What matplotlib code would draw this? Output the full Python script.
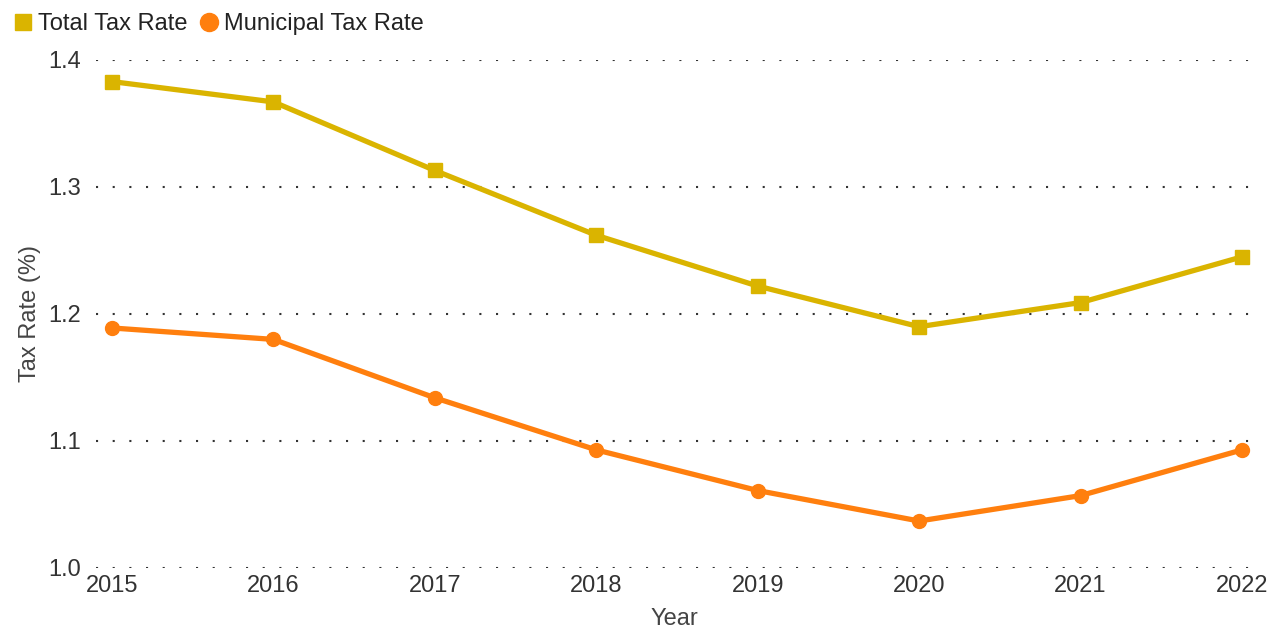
import matplotlib
matplotlib.use("Agg")
import matplotlib.pyplot as plt
from matplotlib.lines import Line2D

plt.rcParams['font.family'] = ['Liberation Sans', 'DejaVu Sans']

years = [2015, 2016, 2017, 2018, 2019, 2020, 2021, 2022]
total_tax_rate = [1.383, 1.367, 1.313, 1.262, 1.222, 1.190, 1.209, 1.245]
municipal_tax_rate = [1.189, 1.180, 1.134, 1.093, 1.061, 1.037, 1.057, 1.093]
y_ticks = [1.0, 1.1, 1.2, 1.3, 1.4]

c_total = '#DAB400'
c_muni = '#FF7F0E'
text_c = '#333333'

fig = plt.figure(figsize=(12.81, 6.31), dpi=100)
ax = fig.add_axes([96/1281, 1-568/631, (1252-96)/1281, (568-60)/631])

ax.plot(years, total_tax_rate, color=c_total, lw=3.8, marker='s', ms=10, zorder=3)
ax.plot(years, municipal_tax_rate, color=c_muni, lw=3.8, marker='o', ms=10, zorder=3)

ax.set_xlim(2015 - 16/161.4, 2022 + 10/161.4)
ax.set_ylim(1.0, 1.4)
ax.set_yticks(y_ticks)
ax.set_yticklabels([f"{v:.1f}" for v in y_ticks])
ax.set_xticks(years)
ax.set_xticklabels([str(y) for y in years])
for s in ax.spines.values():
    s.set_visible(False)
ax.tick_params(length=0, labelsize=17, colors=text_c, pad=11)
ax.tick_params(axis='x', pad=5)
ax.grid(axis='y', color='#333333', linestyle=(0, (1, 7)), lw=1.5)
ax.set_axisbelow(True)

ax.set_xlabel('Year', fontsize=17, color='#444444', labelpad=8)
ax.set_ylabel('Tax Rate (%)', fontsize=17, color='#444444', labelpad=5)

handles = [Line2D([], [], color=c_total, marker='s', ls='none', ms=11),
           Line2D([], [], color=c_muni, marker='o', ls='none', ms=13)]
fig.legend(handles, ['Total Tax Rate', 'Municipal Tax Rate'], loc='upper left',
           bbox_to_anchor=(0.002, 1.0), ncol=2, frameon=False, fontsize=17,
           handlelength=0.6, handletextpad=0.35, columnspacing=0.6,
           borderaxespad=0.15, labelcolor='#222222')

fig.savefig('out.png', dpi=100)
